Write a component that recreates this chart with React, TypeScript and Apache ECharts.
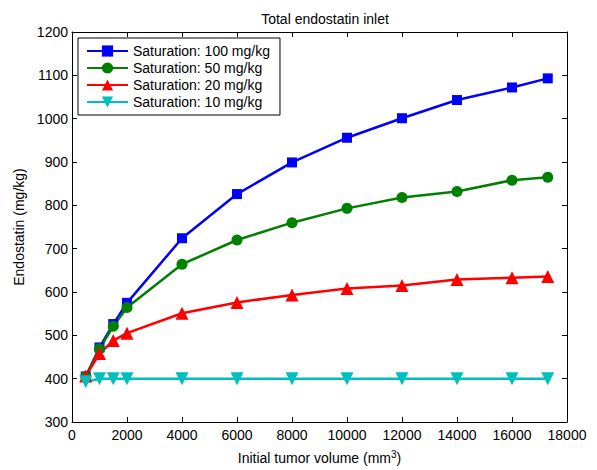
import React, { useEffect, useRef } from "react";
import * as echarts from "echarts";

const xValues = [500, 1000, 1500, 2000, 4000, 6000, 8000, 10000, 12000, 14000, 16000, 17300];
const sat100 = [405, 472, 526, 575, 724, 826, 899, 956, 1001, 1043, 1072, 1093];
const sat50 = [405, 469, 521, 564, 664, 720, 760, 793, 818, 832, 858, 865];
const sat20 = [406, 458, 488, 505, 551, 576, 593, 608, 615, 629, 633, 636];
const sat10 = [393, 400, 400, 400, 400, 400, 400, 400, 400, 400, 400, 400];
const seriesNames = [
  "Saturation: 100 mg/kg",
  "Saturation: 50 mg/kg",
  "Saturation: 20 mg/kg",
  "Saturation: 10 mg/kg",
];

const FONT = "Liberation Sans, Arial, Helvetica, sans-serif";

export default function App() {
  const ref = useRef<HTMLDivElement>(null);
  useEffect(() => {
    document.body.style.margin = "0";
    const chart = echarts.init(ref.current!, null, { renderer: "svg" });
    const mk = (name: string, vals: number[], color: string, symbol: string, size: number, rotate = 0) => ({
      name,
      type: "line",
      data: xValues.map((x, i) => [x, vals[i]]),
      color,
      symbol,
      symbolSize: size,
      symbolRotate: rotate,
      showAllSymbol: true,
      lineStyle: { width: 2.5, color },
      itemStyle: { color },
      xAxisIndex: 0,
      yAxisIndex: 0,
    });
    const axisCommon = {
      axisLine: { show: true, onZero: false, lineStyle: { color: "#000", width: 1 } },
      axisTick: { show: true, inside: true, length: 5, lineStyle: { color: "#000" } },
      splitLine: { show: false },
    };
    chart.setOption({
      animation: false,
      backgroundColor: "#fff",
      textStyle: { fontFamily: FONT },
      title: {
        text: "Total endostatin inlet",
        left: 320,
        textAlign: "center",
        top: 7,
        textStyle: { fontSize: 14, fontWeight: "normal", color: "#000", fontFamily: FONT },
      },
      grid: { left: 72, right: 30, top: 32, bottom: 46, containLabel: false },
      legend: {
        left: 78,
        top: 38,
        orient: "vertical",
        data: seriesNames,
        backgroundColor: "#fff",
        borderColor: "#000",
        borderWidth: 1,
        borderRadius: 0,
        padding: [6, 10, 6, 8],
        itemWidth: 41,
        itemHeight: 14,
        itemGap: 3,
        textStyle: { fontSize: 14, color: "#000", fontFamily: FONT },
      },
      xAxis: [
        {
          type: "value",
          min: 0,
          max: 18000,
          interval: 2000,
          position: "bottom",
          ...axisCommon,
          axisLabel: { show: true, color: "#000", fontSize: 14, margin: 6, fontFamily: FONT, formatter: (v: number) => String(v) },
          name: "{a|Initial tumor volume (mm}{s|3}{a|)}",
          nameLocation: "middle",
          nameGap: 27,
          nameTextStyle: {
            rich: {
              a: { fontSize: 14, color: "#000", fontFamily: FONT },
              s: { fontSize: 10, color: "#000", fontFamily: FONT, verticalAlign: "bottom", padding: [0, 0, 8, 0] },
            },
          },
        },
        {
          type: "value",
          min: 0,
          max: 18000,
          interval: 2000,
          position: "top",
          ...axisCommon,
          axisLabel: { show: false },
        },
      ],
      yAxis: [
        {
          type: "value",
          min: 300,
          max: 1200,
          interval: 100,
          position: "left",
          ...axisCommon,
          axisLabel: { show: true, color: "#000", fontSize: 14, margin: 4, fontFamily: FONT, formatter: (v: number) => String(v) },
          name: "Endostatin (mg/kg)",
          nameLocation: "middle",
          nameGap: 41,
          nameTextStyle: { fontSize: 14, color: "#000", fontFamily: FONT },
        },
        {
          type: "value",
          min: 300,
          max: 1200,
          interval: 100,
          position: "right",
          ...axisCommon,
          axisLabel: { show: false },
        },
      ],
      series: [
        mk(seriesNames[0], sat100, "#0000ff", "rect", 10),
        mk(seriesNames[1], sat50, "#008000", "circle", 11),
        mk(seriesNames[2], sat20, "#ff0000", "triangle", 13),
        mk(seriesNames[3], sat10, "#00bfbf", "triangle", 13, 180),
      ],
    });
    return () => chart.dispose();
  }, []);
  return <div ref={ref} style={{ width: 597, height: 470 }} />;
}
